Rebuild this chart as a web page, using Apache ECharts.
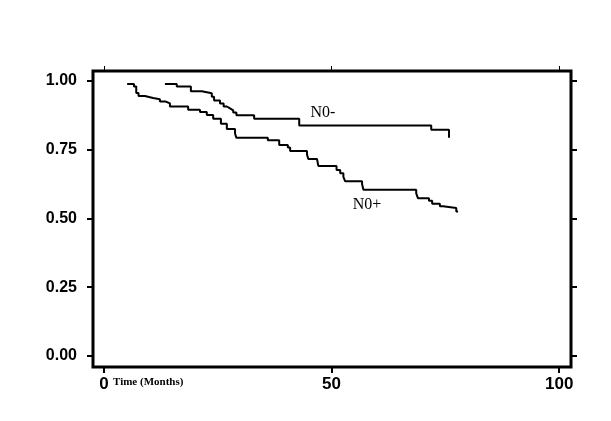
<!DOCTYPE html>
<html>
<head>
<meta charset="utf-8">
<script src="https://cdn.jsdelivr.net/npm/echarts@6/dist/echarts.min.js"></script>
<style>
html,body{margin:0;padding:0;background:#fff;}
#chart{width:611px;height:421px;}
</style>
</head>
<body>
<div id="chart"></div>
<script>
// Kaplan-Meier curves
var n0MinusTimes = [13.4, 16.0, 19.1, 21.5, 23.7, 24.2, 25.5, 26.3, 27.0, 27.7, 28.4, 29.1, 33.0, 42.9, 71.9, 75.8];
var n0MinusSurv  = [0.989, 0.980, 0.962, 0.955, 0.942, 0.929, 0.918, 0.907, 0.900, 0.893, 0.885, 0.875, 0.862, 0.838, 0.822, 0.793];

var n0PlusTimes = [5.1, 6.6, 7.1, 7.6, 9.0, 10.8, 12.3, 13.6, 14.5, 18.5, 21.1, 22.6, 24.0, 25.7, 27.0, 28.8, 29.1, 36.0, 38.5, 40.4, 40.9, 44.6, 44.9, 46.8, 47.1, 51.1, 51.9, 52.6, 53.0, 56.7, 57.0, 68.6, 69.0, 71.4, 72.1, 73.8, 74.5, 77.4, 77.8];
var n0PlusSurv  = [0.989, 0.980, 0.956, 0.945, 0.938, 0.933, 0.925, 0.918, 0.907, 0.895, 0.887, 0.876, 0.862, 0.844, 0.825, 0.809, 0.793, 0.784, 0.767, 0.758, 0.745, 0.733, 0.716, 0.709, 0.691, 0.676, 0.664, 0.651, 0.635, 0.625, 0.604, 0.591, 0.573, 0.564, 0.553, 0.544, 0.538, 0.525, 0.525];

var xTicks = [0, 50, 100];
var yTicks = [0, 0.25, 0.5, 0.75, 1.0];
var xTitle = 'Time (Months)';
var seriesNames = ['N0-', 'N0+'];
var labelCoords = [[48.1, 0.884], [57.8, 0.549]];

function zip(a, b) { return a.map(function (v, i) { return [v, b[i]]; }); }

var chart = echarts.init(document.getElementById('chart'), null, {renderer: 'canvas'});

function ticks(len, width) {
  return {show: true, inside: false, length: len, lineStyle: {color: '#000', width: width}};
}
var hiddenLine = {show: false, onZero: false};

function makeSeries(name, data, coord) {
  return {
    name: name,
    type: 'line',
    step: 'end',
    data: data,
    showSymbol: false,
    symbol: 'none',
    lineStyle: {color: '#000', width: 2},
    animation: false,
    markPoint: {
      symbol: 'circle',
      symbolSize: 0,
      data: [{coord: coord, value: name}],
      label: {
        show: true,
        position: 'inside',
        formatter: name,
        color: '#000',
        fontFamily: 'Liberation Serif',
        fontSize: 16
      }
    }
  };
}

chart.setOption({
  backgroundColor: '#fff',
  animation: false,
  grid: {
    left: 93, top: 71, right: 40, bottom: 54,
    show: true, borderColor: '#000', borderWidth: 3, backgroundColor: 'transparent'
  },
  xAxis: [
    {
      type: 'value', position: 'bottom', min: -2.4, max: 102.6,
      axisLine: hiddenLine, splitLine: {show: false},
      axisTick: Object.assign({customValues: xTicks}, ticks(6, 2)),
      axisLabel: {
        customValues: xTicks, margin: 9, color: '#000',
        fontFamily: 'Liberation Sans', fontWeight: 'bold', fontSize: 17
      }
    },
    {
      type: 'value', position: 'top', min: -2.4, max: 102.6,
      axisLine: hiddenLine, splitLine: {show: false},
      axisTick: Object.assign({customValues: xTicks}, ticks(5, 1)),
      axisLabel: {show: false}
    }
  ],
  yAxis: [
    {
      type: 'value', position: 'left', min: -0.04, max: 1.036,
      axisLine: hiddenLine, splitLine: {show: false},
      axisTick: Object.assign({customValues: yTicks}, ticks(6, 2)),
      axisLabel: {
        customValues: yTicks, margin: 16, color: '#000',
        fontFamily: 'Liberation Sans', fontWeight: 'bold', fontSize: 16,
        formatter: function (v) { return v.toFixed(2); }
      }
    },
    {
      type: 'value', position: 'right', min: -0.04, max: 1.036,
      axisLine: hiddenLine, splitLine: {show: false},
      axisTick: Object.assign({customValues: yTicks}, ticks(6, 2)),
      axisLabel: {show: false}
    }
  ],
  graphic: [{
    type: 'text', left: 113, top: 377,
    style: {text: xTitle, fill: '#000', font: 'bold 11px "Liberation Serif"'}
  }],
  series: [
    makeSeries(seriesNames[0], zip(n0MinusTimes, n0MinusSurv), labelCoords[0]),
    makeSeries(seriesNames[1], zip(n0PlusTimes, n0PlusSurv), labelCoords[1])
  ]
});
</script>
</body>
</html>
